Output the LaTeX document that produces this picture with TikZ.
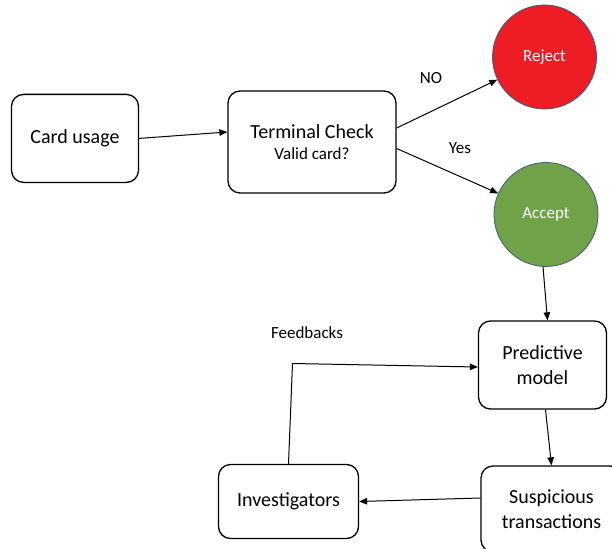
\documentclass[tikz,border=0pt]{standalone}
\usepackage{fontspec}
\setmainfont{Carlito}
\usetikzlibrary{arrows.meta,calc}
\definecolor{rejred}{HTML}{EE1C25}
\definecolor{accgreen}{HTML}{70A348}
\definecolor{circedge}{HTML}{3E5A7E}
\tikzset{
  box/.style={draw=black, line width=1.3pt, rounded corners=12pt, align=center, inner sep=0pt,
    font=\fontsize{20}{24.5}\selectfont},
  state/.style={circle, draw=circedge, line width=0.8pt, minimum size=104pt, inner sep=0pt,
    text=white, font=\fontsize{17}{19}\selectfont},
  lbl/.style={font=\fontsize{17}{19}\selectfont, inner sep=0pt},
  conn/.style={draw=black, line width=1pt, -{Triangle[length=8pt,width=6.5pt]}}
}
\begin{document}
\begin{tikzpicture}[x=1pt,y=-1pt]
\useasboundingbox (0,0) rectangle (612,548);
\clip (0,0) rectangle (612,548);
\node[box, minimum width=127pt, minimum height=88pt] (card) at (75,138.4) {Card usage};
\node[box, minimum width=168pt, minimum height=102pt] (term) at (312,142)
  {Terminal Check\\[-3pt]{\fontsize{17}{20}\selectfont Valid card?}};
\node[state, fill=rejred] (reject) at (544.5,57) {Reject};
\node[state, fill=accgreen] (accept) at (546,214.5) {Accept};
\node[box, minimum width=128pt, minimum height=88pt] (pred) at (542.5,365) {Predictive\\model};
\node[box, minimum width=141pt, minimum height=86pt] (susp) at (551.5,509) {Suspicious\\transactions};
\node[box, minimum width=140pt, minimum height=74pt] (inv) at (288.5,501.5) {Investigators};
\node[lbl] (no) at (431,77.6) {NO};
\node[lbl] (yes) at (460,148.5) {Yes};
\node[lbl] (fbl) at (307,332.7) {Feedbacks};
\coordinate (fb) at (292.5,363.5);
\draw[conn] (card.east) -- ([yshift=10pt]term.west);
\draw[conn] ([yshift=14pt]term.east) -- (reject);
\draw[conn] ([yshift=-6.5pt]term.east) -- (accept);
\draw[conn] ([xshift=-3pt]accept.south) -- ([xshift=5pt]pred.north);
\draw[conn] ([xshift=3pt]pred.south) -- (susp.north);
\draw[conn] ([yshift=11pt]susp.west) -- (inv.east);
\draw[conn] (inv.north) -- (fb) -- ([yshift=-2pt]pred.west);
\end{tikzpicture}
\end{document}
